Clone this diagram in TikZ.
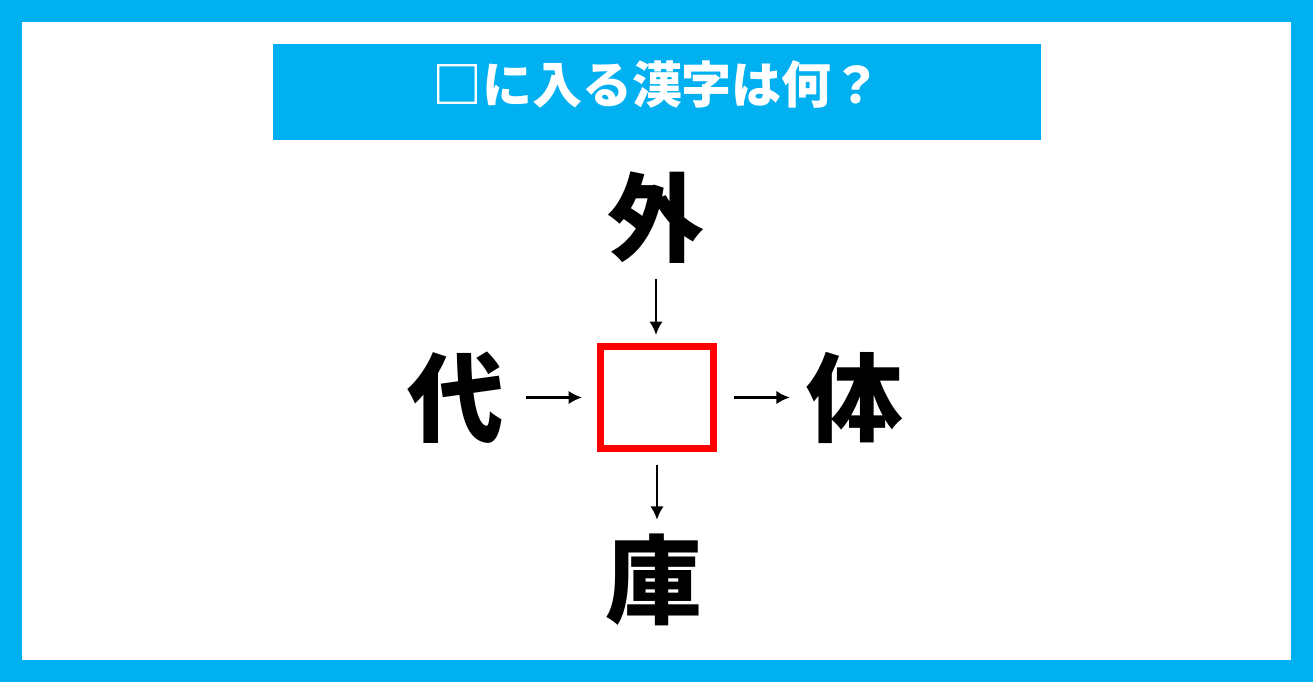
\documentclass[tikz,border=0pt]{standalone}
\usepackage{fontspec}
\newfontfamily\jp{Noto Sans CJK JP}
\usetikzlibrary{arrows.meta}
\definecolor{skyblue}{HTML}{00B0F0}

\begin{document}
\begin{tikzpicture}[x=0.02cm,y=-0.02cm,
  kanji/.style={font=\jp\bfseries\fontsize{55pt}{55pt}\selectfont,inner sep=0pt,text height=1.703cm,text depth=0.232cm},
  hole/.style={draw=red,line width=0.14cm,minimum width=2.26cm,minimum height=2.04cm,inner sep=0pt},
  link/.style={line width=0.046cm,-{Latex[length=0.27cm,width=0.27cm]}}]
\fill[skyblue] (0,0) rectangle (1313,682); %frame
\fill[white] (22,22) rectangle (1291,660);
\node[fill=skyblue,minimum width=15.36cm,minimum height=1.92cm,inner sep=0pt] (bar) at (657,92) {};
\node[font=\jp\bfseries\fontsize{28.45pt}{28.45pt}\selectfont,text=white,inner sep=0pt,text height=0.88cm,text depth=0.12cm] (question) at (657,85) {□に入る漢字は何？};
\node[hole] (blank) at (657,397.5) {};
\node[kanji] (gai) at (656,218) {外};%top
\node[kanji] (dai) at (456,397.5) {代};%left
\node[kanji] (tai) at (855,397.5) {体};%right
\node[kanji] (ko) at (654,580) {庫};%bottom
\draw[link,shorten <=0.25cm,shorten >=0.16cm] (gai.south) -- (gai.south |- blank.north);
\draw[link,shorten <=0.43cm,shorten >=0.3cm] (dai.east) -- (blank.west);
\draw[link,shorten <=0.34cm,shorten >=0.33cm] (blank.east) -- (tai.west);
\draw[link,shorten <=0.26cm,shorten >=0.23cm] (blank.south) -- (blank.south |- ko.north);
\end{tikzpicture}
\end{document}
